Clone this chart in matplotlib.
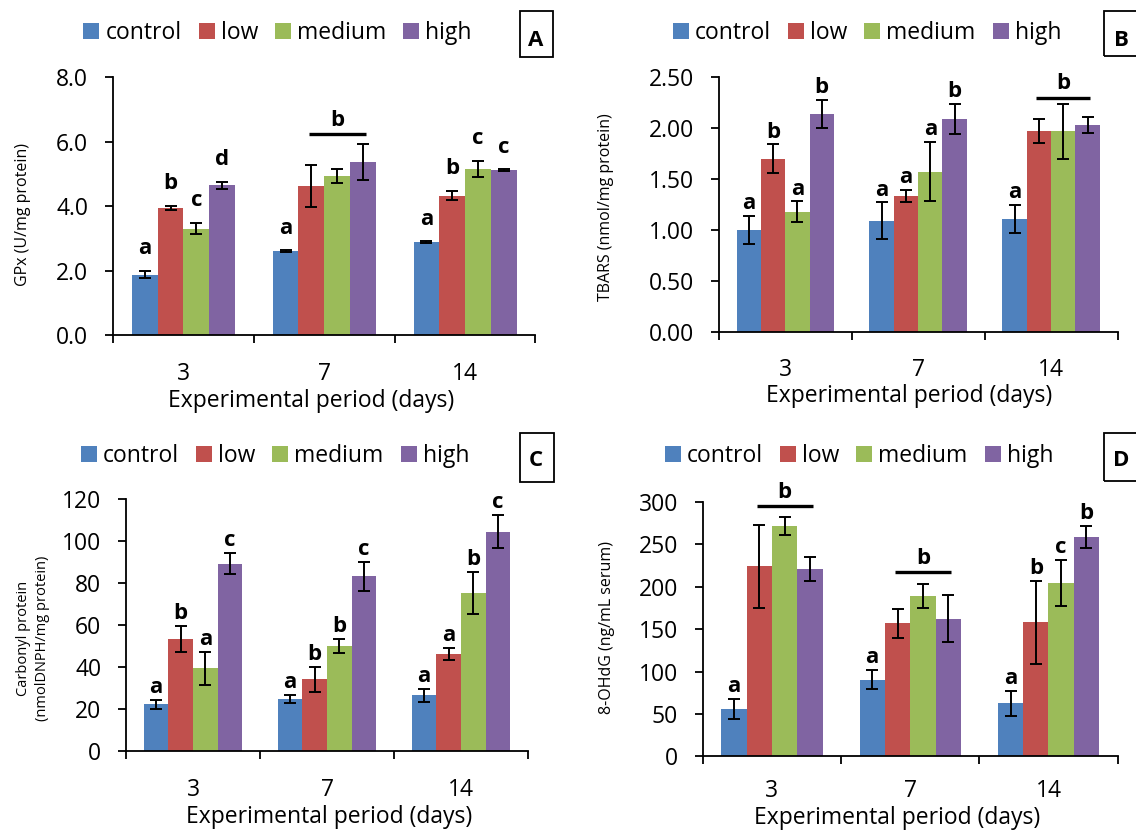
import numpy as np
import matplotlib
matplotlib.use('Agg')
import matplotlib.pyplot as plt
from matplotlib.patches import Rectangle, Patch
from matplotlib.ticker import FormatStrFormatter

plt.rcParams['font.family'] = ['Open Sans', 'DejaVu Sans']

W, H = 1136, 832

days = ['3', '7', '14']
groups = ['control', 'low', 'medium', 'high']
colors = ['#4F81BD', '#C0504D', '#9BBB59', '#8064A2']

# rows follow `groups`, columns follow `days`
gpx_mean = [[1.88, 2.61, 2.89], [3.94, 4.63, 4.33], [3.31, 4.94, 5.16], [4.65, 5.37, 5.13]]
gpx_sd = [[0.11, 0.02, 0.02], [0.07, 0.64, 0.15], [0.18, 0.21, 0.26], [0.10, 0.56, 0.02]]
gpx_letters = [['a', 'a', 'a'], ['b', '', 'b'], ['c', '', 'c'], ['d', '', 'c']]
gpx_shared = [(1, 6.24, 'b')]

tbars_mean = [[1.00, 1.09, 1.11], [1.70, 1.33, 1.97], [1.18, 1.57, 1.97], [2.14, 2.09, 2.03]]
tbars_sd = [[0.14, 0.18, 0.14], [0.14, 0.06, 0.12], [0.10, 0.29, 0.27], [0.14, 0.15, 0.08]]
tbars_letters = [['a', 'a', 'a'], ['b', 'a', ''], ['a', 'a', ''], ['b', 'b', '']]
tbars_shared = [(2, 2.30, 'b')]

carb_mean = [[22.3, 24.8, 26.7], [53.5, 34.3, 46.3], [39.5, 50.2, 75.6], [89.4, 83.3, 104.6]]
carb_sd = [[2.0, 2.0, 3.0], [6.2, 6.0, 3.0], [7.8, 3.5, 10.0], [5.2, 7.0, 8.0]]
carb_letters = [['a', 'a', 'a'], ['b', 'b', 'a'], ['a', 'b', 'b'], ['c', 'c', 'c']]
carb_shared = []

ohdg_mean = [[55.8, 90.4, 62.5], [224.0, 157.0, 158.0], [271.7, 189.0, 204.5], [220.6, 162.4, 258.5]]
ohdg_sd = [[12.0, 11.0, 15.0], [49.0, 17.0, 49.0], [11.0, 14.0, 27.0], [14.0, 28.0, 13.0]]
ohdg_letters = [['a', 'a', 'a'], ['', '', 'b'], ['', '', 'c'], ['', '', 'b']]
ohdg_shared = [(0, 295.0, 'b'), (1, 217.5, 'b')]

BAR_W = 0.183
FS = 16.5


def fig_xy(px, py):
    return px / W, 1 - py / H


def draw_panel(ax, means, sds, letters, shared, ymax, step, fmt, ylabel, ylab_fs,
               letter_gap, xtick_pad, ylab_xy, xlab_xy, legend_xy, tag, tag_box, tag_xy):
    n = len(days)
    xs = np.arange(n)
    handles = []
    for k, g in enumerate(groups):
        x = xs + (k - 1.5) * BAR_W
        ax.bar(x, means[k], width=BAR_W, color=colors[k], edgecolor='none', zorder=2)
        ax.errorbar(x, means[k], yerr=sds[k], fmt='none', ecolor='black',
                    elinewidth=1.4, capsize=4.3, capthick=1.4, zorder=3)
        for i in range(n):
            if letters[k][i]:
                ax.annotate(letters[k][i], (x[i], means[k][i] + sds[k][i]),
                            xytext=(0, letter_gap), textcoords='offset points',
                            ha='center', va='baseline', fontsize=16,
                            fontweight='bold', annotation_clip=False)
        handles.append(Patch(facecolor=colors[k], label=g))

    # one letter for low..high, drawn over a bar
    for i, h, lt in shared:
        x0 = i + (1 - 1.5) * BAR_W - 0.02
        x1 = i + (3 - 1.5) * BAR_W + 0.02
        ax.plot([x0, x1], [h, h], color='black', lw=2.4, solid_capstyle='butt',
                clip_on=False, zorder=3)
        ax.annotate(lt, ((x0 + x1) / 2, h), xytext=(0, 6), textcoords='offset points',
                    ha='center', va='baseline', fontsize=16, fontweight='bold',
                    annotation_clip=False)

    ax.set_xlim(-0.5, n - 0.5)
    ax.set_ylim(0, ymax)
    ax.set_yticks(np.arange(0, ymax + step / 2, step))
    ax.yaxis.set_major_formatter(FormatStrFormatter(fmt))
    ax.set_xticks(np.arange(n + 1) - 0.5)
    ax.set_xticklabels([])
    ax.set_xticks(xs, minor=True)
    ax.set_xticklabels(days, minor=True)
    ax.tick_params(axis='x', which='major', direction='out', length=5.8, width=1.3)
    ax.tick_params(axis='x', which='minor', length=0, pad=xtick_pad, labelsize=FS)
    ax.tick_params(axis='y', direction='out', length=5.8, width=1.3, pad=12, labelsize=FS)
    for s in ['top', 'right']:
        ax.spines[s].set_visible(False)
    for s in ['left', 'bottom']:
        ax.spines[s].set_linewidth(1.3)

    ax.set_ylabel(ylabel, fontsize=ylab_fs, va='center', ha='center', linespacing=1.35)
    ax.yaxis.set_label_coords(*fig_xy(*ylab_xy), transform=fig.transFigure)
    ax.set_xlabel('Experimental period (days)', fontsize=FS, va='center')
    ax.xaxis.set_label_coords(*fig_xy(*xlab_xy), transform=fig.transFigure)

    ax.legend(handles=handles, loc='center', bbox_to_anchor=fig_xy(*legend_xy),
              bbox_transform=fig.transFigure, ncol=4, frameon=False, fontsize=FS,
              handlelength=0.7, handleheight=0.65, handletextpad=0.26,
              columnspacing=0.74, borderpad=0, borderaxespad=0)

    bx0, by0, bx1, by1 = tag_box
    fig.add_artist(Rectangle(fig_xy(bx0, by1), (bx1 - bx0) / W, (by1 - by0) / H,
                             transform=fig.transFigure, fill=False, ec='black', lw=1.3))
    fig.text(*fig_xy(*tag_xy), tag, fontsize=16, fontweight='bold', ha='center', va='center')


fig = plt.figure(figsize=(W / 100, H / 100), dpi=100)

ax_a = fig.add_axes([113 / W, 1 - 335.3 / H, 422.5 / W, 258 / H])
ax_b = fig.add_axes([718.7 / W, 1 - 331.7 / H, 398.9 / W, 254.4 / H])
ax_c = fig.add_axes([126 / W, 1 - 751.3 / H, 402 / W, 252 / H])
ax_d = fig.add_axes([702.8 / W, 1 - 756.3 / H, 414.8 / W, 254.3 / H])

draw_panel(ax_a, gpx_mean, gpx_sd, gpx_letters, gpx_shared, 8, 2, '%.1f',
           'GPx (U/mg protein)', 11.5, 12, 19, (23.5, 214), (311, 401), (277.5, 33),
           'A', (520, 11, 553, 57), (536, 40))
draw_panel(ax_b, tbars_mean, tbars_sd, tbars_letters, tbars_shared, 2.5, 0.5, '%.2f',
           'TBARS (nmol/mg protein)', 11.5, 5, 19, (606, 207), (909.5, 396), (867, 33),
           'B', (1104, 11, 1145, 56), (1121.5, 40))
draw_panel(ax_c, carb_mean, carb_sd, carb_letters, carb_shared, 120, 20, '%d',
           'Carbonyl protein\n(nmolDNPH/mg protein)', 10.5, 5, 19, (33, 638), (329, 817), (275, 456),
           'C', (520, 433, 553.6, 482), (536, 461))
draw_panel(ax_d, ohdg_mean, ohdg_sd, ohdg_letters, ohdg_shared, 300, 50, '%d',
           '8-OHdG (ng/mL serum)', 11.5, 5, 16.5, (606.8, 628), (897, 818), (859, 456),
           'D', (1104, 433, 1145, 481), (1121.5, 461))

fig.savefig('out.png', dpi=100)
